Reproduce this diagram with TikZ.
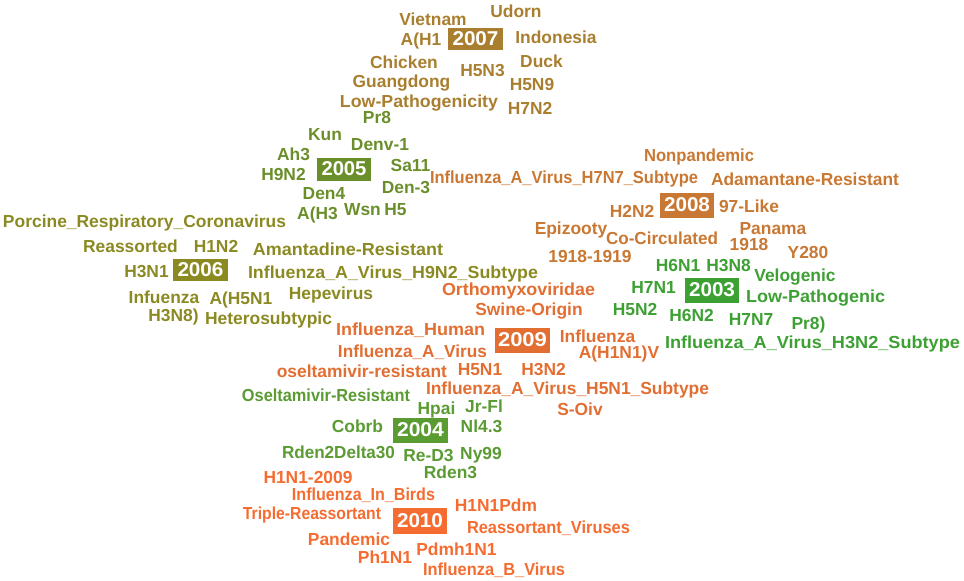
\documentclass[tikz,border=0pt]{standalone}
\usepackage{fontspec}
\setmainfont{Liberation Sans}
\usepackage{graphicx}
\definecolor{cA}{HTML}{A97E2F}% 2007
\definecolor{cB}{HTML}{6A8F2A}% 2005
\definecolor{cC}{HTML}{8B8A22}% 2006
\definecolor{cD}{HTML}{C87832}% 2008
\definecolor{cE}{HTML}{3CA032}% 2003
\definecolor{cF}{HTML}{E26E32}% 2009
\definecolor{cG}{HTML}{5A9B32}% 2004
\definecolor{cH}{HTML}{F56C30}% 2010
% scale a word horizontally to a given width, keeping its height
\newcommand{\fitw}[2]{\resizebox{#1pt}{\height}{#2}}
\tikzset{
  wc/.style={inner sep=0pt, outer sep=0pt, font=\bfseries\fontsize{17.4}{17.4}\selectfont},
  yearbox/.style={inner sep=0pt, outer sep=0pt, font=\bfseries\fontsize{20}{20}\selectfont, text=white},
}
\begin{document}
\begin{tikzpicture}[x=1pt,y=-1pt]
\useasboundingbox (0,0) rectangle (964,581);
% ---------- 2007 ----------
\node[yearbox, fill=cA, minimum width=55pt, minimum height=22pt] (y2007) at (475.5,39) {\fitw{46}{2007}};
\node[wc, text=cA] (vietnam) at (433,19) {Vietnam};
\node[wc, text=cA] (udorn) at (516,11) {Udorn};
\node[wc, text=cA] (ah1) at (421,41) {A(H1};
\node[wc, text=cA] (indonesia) at (556,37) {Indonesia};
\node[wc, text=cA] (chicken) at (404,62) {Chicken};
\node[wc, text=cA] (duck) at (541.5,61) {Duck};
\node[wc, text=cA] (h5n3) at (482.5,71) {H5N3};
\node[wc, text=cA] (guangdong) at (401.5,83) {Guangdong};
\node[wc, text=cA] (h5n9) at (532,84.5) {H5N9};
\node[wc, text=cA] (lowpathy) at (419,103) {\fitw{158}{Low-Pathogenicity}};
\node[wc, text=cA] (h7n2) at (530,108.5) {H7N2};
\node[wc, text=cB] (pr8a) at (377,118) {Pr8};
% ---------- 2005 ----------
\node[yearbox, fill=cB, minimum width=54pt, minimum height=23pt] (y2005) at (344,169) {\fitw{45}{2005}};
\node[wc, text=cB] (kun) at (325,135) {Kun};
\node[wc, text=cB] (denv1) at (380,144.5) {Denv-1};
\node[wc, text=cB] (ah3) at (293.5,154.5) {Ah3};
\node[wc, text=cB] (h9n2) at (283.5,174.5) {H9N2};
\node[wc, text=cB] (sa11) at (410.5,165.5) {Sa11};
\node[wc, text=cB] (den3) at (406,187.5) {Den-3};
\node[wc, text=cB] (den4) at (324,193.5) {Den4};
\node[wc, text=cB] (ah3b) at (317.5,215) {A(H3};
\node[wc, text=cB] (wsn) at (362.5,210) {Wsn};
\node[wc, text=cB] (h5) at (395.5,209.5) {H5};
% ---------- 2006 ----------
\node[yearbox, fill=cC, minimum width=55pt, minimum height=22pt] (y2006) at (200.5,269.5) {\fitw{46}{2006}};
\node[wc, text=cC] (porcine) at (144.5,223) {\fitw{283}{Porcine\_Respiratory\_Coronavirus}};
\node[wc, text=cC] (reassorted) at (130.5,246.5) {Reassorted};
\node[wc, text=cC] (h1n2) at (216,246.5) {H1N2};
\node[wc, text=cC] (h3n1) at (146.5,271.5) {H3N1};
\node[wc, text=cC] (infuenza) at (164,297.5) {Infuenza};
\node[wc, text=cC] (ah5n1) at (241,299.5) {A(H5N1};
\node[wc, text=cC] (h3n8b) at (173.5,317) {H3N8)};
\node[wc, text=cC] (heterosub) at (268.5,320) {\fitw{127}{Heterosubtypic}};
\node[wc, text=cC] (amantadine) at (348,249.5) {\fitw{190}{Amantadine-Resistant}};
\node[wc, text=cC] (h9n2sub) at (393,274) {\fitw{290}{Influenza\_A\_Virus\_H9N2\_Subtype}};
\node[wc, text=cC] (hepevirus) at (331,295) {Hepevirus};
% ---------- 2008 ----------
\node[yearbox, fill=cD, minimum width=54pt, minimum height=25pt] (y2008) at (687,205) {\fitw{46}{2008}};
\node[wc, text=cD] (nonpandemic) at (699,157) {\fitw{110}{Nonpandemic}};
\node[wc, text=cD] (h7n7sub) at (564,179) {\fitw{268}{Influenza\_A\_Virus\_H7N7\_Subtype}};
\node[wc, text=cD] (adamantane) at (805,179.5) {\fitw{188}{Adamantane-Resistant}};
\node[wc, text=cD] (h2n2) at (632,211) {H2N2};
\node[wc, text=cD] (like97) at (749,206) {97-Like};
\node[wc, text=cD] (epizooty) at (571,230) {Epizooty};
\node[wc, text=cD] (cocirc) at (662,238) {\fitw{112}{Co-Circulated}};
\node[wc, text=cD] (panama) at (773,229) {Panama};
\node[wc, text=cD] (n1918) at (749,244.5) {1918};
\node[wc, text=cD] (y280) at (808,252.5) {Y280};
\node[wc, text=cD] (n19181919) at (590,257) {1918-1919};
% ---------- 2003 ----------
\node[yearbox, fill=cE, minimum width=54pt, minimum height=25pt] (y2003) at (712,290) {\fitw{46}{2003}};
\node[wc, text=cE] (h6n1) at (678,266) {H6N1};
\node[wc, text=cE] (h3n8) at (728.5,265.5) {H3N8};
\node[wc, text=cE] (velogenic) at (795,277) {Velogenic};
\node[wc, text=cE] (h7n1) at (653.5,287.5) {H7N1};
\node[wc, text=cE] (lowpath) at (815.5,298.5) {\fitw{139}{Low-Pathogenic}};
\node[wc, text=cE] (h5n2) at (635,309.5) {H5N2};
\node[wc, text=cE] (h6n2) at (691.5,315.5) {H6N2};
\node[wc, text=cE] (h7n7) at (751,319.5) {H7N7};
\node[wc, text=cE] (pr8b) at (808.5,325) {Pr8)};
\node[wc, text=cE] (h3n2sub) at (812.5,343.5) {\fitw{295}{Influenza\_A\_Virus\_H3N2\_Subtype}};
% ---------- 2009 ----------
\node[yearbox, fill=cF, minimum width=55pt, minimum height=25pt] (y2009) at (522.5,340) {\fitw{49}{2009}};
\node[wc, text=cF] (orthomyxo) at (518.5,290.5) {\fitw{153}{Orthomyxoviridae}};
\node[wc, text=cF] (swine) at (529,311.5) {Swine-Origin};
\node[wc, text=cF] (inflhuman) at (410.5,330.5) {\fitw{149}{Influenza\_Human}};
\node[wc, text=cF] (influenzaR) at (597.5,336) {Influenza};
\node[wc, text=cF] (inflavirus) at (412.5,352) {\fitw{149}{Influenza\_A\_Virus}};
\node[wc, text=cF] (ah1n1v) at (619,353.5) {A(H1N1)V};
\node[wc, text=cF, anchor=east] (oselres) at (447,371) {oseltamivir-resistant};
\node[wc, text=cF] (h5n1) at (480,369.5) {H5N1};
\node[wc, text=cF] (h3n2) at (543.5,369.5) {H3N2};
\node[wc, text=cF, anchor=west] (h5n1sub) at (426,390) {Influenza\_A\_Virus\_H5N1\_Subtype};
\node[wc, text=cF] (soiv) at (580,409.5) {S-Oiv};
% ---------- 2004 ----------
\node[yearbox, fill=cG, minimum width=55pt, minimum height=25pt] (y2004) at (420.5,430) {\fitw{47}{2004}};
\node[wc, text=cG] (oselRes) at (326,395) {\fitw{168}{Oseltamivir-Resistant}};
\node[wc, text=cG] (hpai) at (436.5,410) {Hpai};
\node[wc, text=cG] (jrfl) at (484,406.5) {Jr-Fl};
\node[wc, text=cG] (cobrb) at (357.5,426.5) {Cobrb};
\node[wc, text=cG] (nl43) at (481.5,426.5) {Nl4.3};
\node[wc, text=cG] (rden2) at (338.5,452.5) {\fitw{113}{Rden2Delta30}};
\node[wc, text=cG] (red3) at (428.5,455.5) {Re-D3};
\node[wc, text=cG] (ny99) at (481,455) {Ny99};
\node[wc, text=cG] (rden3) at (450.5,472.5) {Rden3};
% ---------- 2010 ----------
\node[yearbox, fill=cH, minimum width=54pt, minimum height=26pt] (y2010) at (420,520.5) {\fitw{46}{2010}};
\node[wc, text=cH] (h1n12009) at (308,477.5) {H1N1-2009};
\node[wc, text=cH] (inbirds) at (363.5,495) {\fitw{143}{Influenza\_In\_Birds}};
\node[wc, text=cH] (h1n1pdm) at (496,505.5) {H1N1Pdm};
\node[wc, text=cH, anchor=east] (triple) at (381,515) {\fitw{138}{Triple-Reassortant}};
\node[wc, text=cH] (reassvir) at (548.5,528.5) {\fitw{163}{Reassortant\_Viruses}};
\node[wc, text=cH] (pandemic) at (349,539.5) {Pandemic};
\node[wc, text=cH] (pdmh1n1) at (456.5,549.5) {Pdmh1N1};
\node[wc, text=cH] (ph1n1) at (385,557.5) {Ph1N1};
\node[wc, text=cH] (inflb) at (494,570.5) {\fitw{142}{Influenza\_B\_Virus}};
\end{tikzpicture}
\end{document}
